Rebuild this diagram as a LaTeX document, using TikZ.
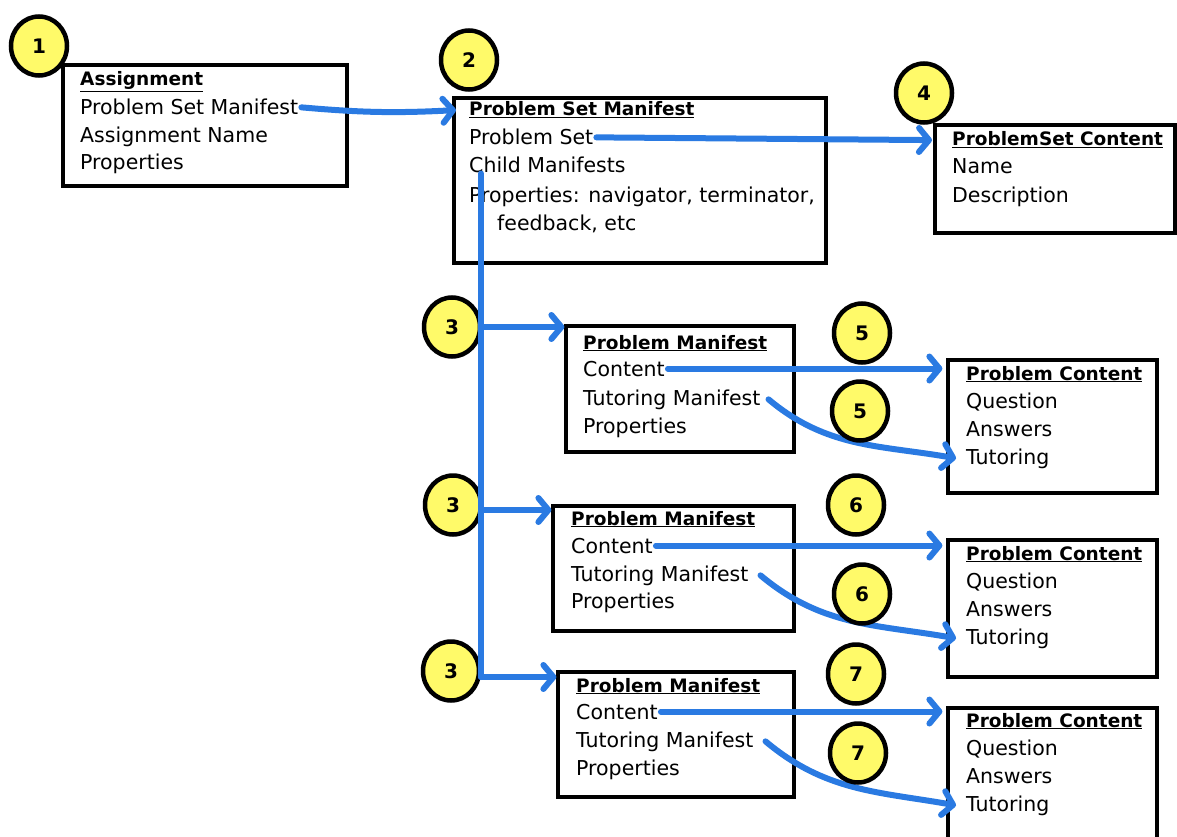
\documentclass[tikz,border=0pt]{standalone}
\usepackage{fontspec}
\setmainfont{DejaVu Sans}
\usetikzlibrary{arrows.meta,shapes.geometric,calc}
\definecolor{arrblue}{RGB}{42,122,226}
\definecolor{numyellow}{RGB}{255,250,105}
\begin{document}
\begin{tikzpicture}[x=1pt,y=-1pt,
 box/.style={draw=black,line width=3.2pt,rectangle,inner sep=0pt},
 txt/.style={anchor=base west,inner sep=0pt,font=\fontsize{20.5}{24}\selectfont},
 hdr/.style={anchor=base west,inner sep=0pt,font=\fontsize{18.5}{24}\selectfont\bfseries},
 num/.style={ellipse,draw=black,line width=4.5pt,fill=numyellow,minimum width=56pt,minimum height=59pt,inner sep=0pt,font=\fontsize{20}{22}\selectfont\bfseries},
 arr/.style={draw=arrblue,line width=6pt,line cap=round,-{Straight Barb[length=10pt,width=24pt,round]}},
 link/.style={draw=arrblue,line width=6pt,line cap=round}
]
\useasboundingbox (0,0) rectangle (1177,837);
\fill[white] (0,0) rectangle (1177,837);

% boxes
\node[box,minimum width=284pt,minimum height=121pt] (b1) at (205,125.5) {};
\node[box,minimum width=372pt,minimum height=165pt] (b2) at (640,180.5) {};
\node[box,minimum width=240pt,minimum height=108pt] (b4) at (1055,179) {};
\node[box,minimum width=228pt,minimum height=126pt] (pm1) at (680,389) {};
\node[box,minimum width=241pt,minimum height=125pt] (pm2) at (673.5,568.5) {};
\node[box,minimum width=236pt,minimum height=125pt] (pm3) at (676,734.5) {};
\node[box,minimum width=209pt,minimum height=133pt] (pc1) at (1052.5,426.5) {};
\node[box,minimum width=209pt,minimum height=137pt] (pc2) at (1052.5,608.5) {};
\node[box,minimum width=209pt,minimum height=142pt] (pc3) at (1052.5,779) {};

% texts box 1
\node[hdr] (h1) at (80,86) {\underline{Assignment}};
\node[txt] (a1) at (80,115) {Problem Set Manifest};
\node[txt] (a2) at (80,143) {Assignment Name};
\node[txt] (a3) at (80,170) {Properties};
% box 2
\node[hdr] (h2) at (469,116) {\underline{Problem Set Manifest}};
\node[txt] (ps) at (469,145) {Problem Set};
\node[txt] (cm) at (469,173) {Child Manifests};
\node[txt] (pr2) at (469,202) {Properties: navigator, terminator,};
\node[txt] (pr2b) at (497,230) {feedback, etc};
% box 4
\node[hdr] (h4) at (952,146) {\underline{ProblemSet Content}};
\node[txt] (n4) at (952,174) {Name};
\node[txt] (d4) at (952,202) {Description};
% problem manifests
\node[hdr] (hm1) at (583,349) {\underline{Problem Manifest}};
\node[txt] (c1) at (583,376) {Content};
\node[txt] (t1) at (583,405) {Tutoring Manifest};
\node[txt] (p1) at (583,433) {Properties};
\node[hdr] (hm2) at (571,525) {\underline{Problem Manifest}};
\node[txt] (c2) at (571,553) {Content};
\node[txt] (t2) at (571,581) {Tutoring Manifest};
\node[txt] (p2) at (571,608) {Properties};
\node[hdr] (hm3) at (576,692) {\underline{Problem Manifest}};
\node[txt] (c3) at (576,719) {Content};
\node[txt] (t3) at (576,747) {Tutoring Manifest};
\node[txt] (p3) at (576,775) {Properties};
% problem contents
\node[hdr] (hc1) at (966,380) {\underline{Problem Content}};
\node[txt] (q1) at (966,408) {Question};
\node[txt] (an1) at (966,436) {Answers};
\node[txt] (tu1) at (966,464) {Tutoring};
\node[hdr] (hc2) at (966,560) {\underline{Problem Content}};
\node[txt] (q2) at (966,588) {Question};
\node[txt] (an2) at (966,616) {Answers};
\node[txt] (tu2) at (966,644) {Tutoring};
\node[hdr] (hc3) at (966,727) {\underline{Problem Content}};
\node[txt] (q3) at (966,755) {Question};
\node[txt] (an3) at (966,783) {Answers};
\node[txt] (tu3) at (966,811) {Tutoring};

% number circles (behind connectors)
\node[num] (n1) at (39,46) {1};
\node[num] (n2) at (469,60) {2};
\node[num] (n4c) at (924,93) {4};
\node[num] (n3a) at (452,327) {3};
\node[num] (n3b) at (453,505) {3};
\node[num] (n3c) at (451,671) {3};
\node[num] (n5a) at (862,333) {5};
\node[num] (n6a) at (856,505) {6};
\node[num] (n7a) at (856,674) {7};

% connectors
\draw[arr] ([xshift=3pt]a1.east) to[bend right=4] ([xshift=-13pt]h2.west);
\draw[arr] ([xshift=3pt]ps.east) -- ($(h4.west)+(-20,0)$);

\coordinate (tt) at ([xshift=12pt]cm.south west);
\coordinate (j1) at (tt |- 0,327);
\coordinate (j2) at (tt |- 0,510);
\coordinate (j3) at (tt |- 0,677);
\draw[link] (tt) -- (j3);
\draw[arr] (j1) -- (j1 -| pm1.west);
\draw[arr] (j2) -- (j2 -| pm2.west);
\draw[arr] (j3) -- (j3 -| pm3.west);

\draw[arr] ([xshift=3pt]c1.east) -- ($(c1.east -| pc1.west)+(-4,0)$);
\draw[arr] ([xshift=3pt]c2.east) -- ($(c2.east -| pc2.west)+(-4,0)$);
\draw[arr] ([xshift=3pt]c3.east) -- ($(c3.east -| pc3.west)+(-4,0)$);

\draw[arr] ([xshift=8pt]t1.east) to[out=-40,in=170] ($(tu1.west)+(-10,0)$);
\draw[arr] ([xshift=12pt]t2.east) to[out=-40,in=170] ($(tu2.west)+(-10,0)$);
\draw[arr] ([xshift=12pt]t3.east) to[out=-40,in=170] ($(tu3.west)+(-10,0)$);

% circles on top of curves
\node[num] (n5b) at (860,411) {5};
\node[num] (n6b) at (862,594) {6};
\node[num] (n7b) at (858,753) {7};
\end{tikzpicture}
\end{document}
